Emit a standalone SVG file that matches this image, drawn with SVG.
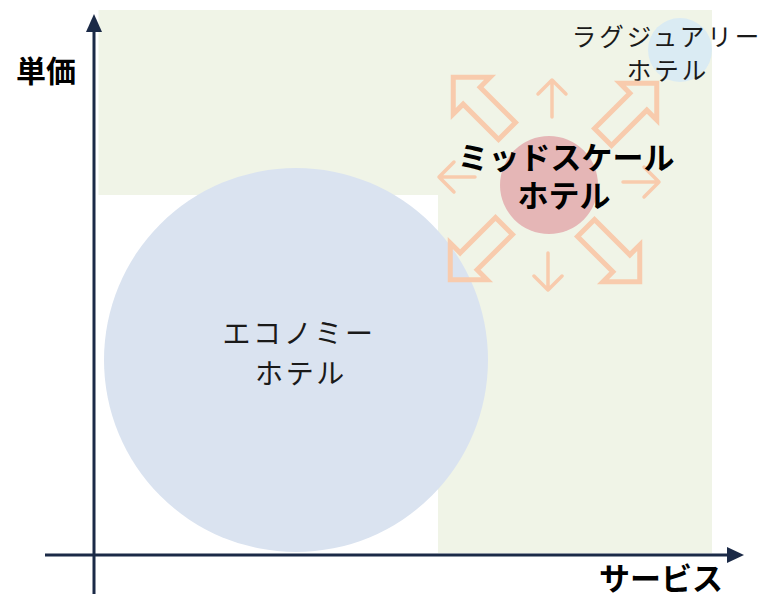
<svg xmlns="http://www.w3.org/2000/svg" width="762" height="595" viewBox="0 0 762 595">
<defs>
<style>
.bg{fill:#F0F4E7}
.ax{stroke:#1B2A47;stroke-width:3;fill:none}
.axh{fill:#1B2A47}
.blk{fill:none;stroke:#F8CBAD;stroke-width:5;stroke-linejoin:miter}
.thin{fill:none;stroke:#F8CBAD;stroke-width:3.5;stroke-linecap:round;stroke-linejoin:round}
.t{font-family:"Noto Sans CJK JP","Noto Sans",sans-serif;fill:#1a1a1a;text-anchor:middle}
.b{font-weight:bold;fill:#000}
</style>
<path id="blockArrow" d="M0,-12 L50,-12 L50,-26 L76,0 L50,26 L50,12 L0,12 Z"/>
</defs>
<rect width="762" height="595" fill="#fff"/>
<path class="bg" d="M98.5,10 H712 V553 H438 V195 H98.5 Z"/>

<g id="economy">
<circle cx="296" cy="360" r="192" fill="#DAE3F0"/>
<text class="t" font-size="28" letter-spacing="2.6"><tspan x="299" y="344">エコノミー</tspan><tspan x="301" y="384">ホテル</tspan></text>
</g>

<g id="luxury">
<circle cx="680" cy="50" r="32" fill="#DAEBF3"/>
<text class="t" font-size="24.5" letter-spacing="3"><tspan x="667" y="46">ラグジュアリー</tspan><tspan x="668" y="80">ホテル</tspan></text>
</g>

<g id="arrows">
<use href="#blockArrow" class="blk" transform="translate(507,131) rotate(-135)"/>
<use href="#blockArrow" class="blk" transform="translate(603,137) rotate(-45)"/>
<use href="#blockArrow" class="blk" transform="translate(504,226) rotate(135)"/>
<use href="#blockArrow" class="blk" transform="translate(586,228) rotate(45)"/>
<path class="thin" d="M552,117 V80 M538,94 L552,80 L566,94"/>
<path class="thin" d="M548,253 V290 M534,276 L548,290 L562,276"/>
<path class="thin" d="M475,177 H439 M454,162 L439,177 L454,192"/>
<path class="thin" d="M623,182 H659 M644,167 L659,182 L644,197"/>
</g>

<g id="midscale">
<circle cx="549" cy="185" r="49" fill="#E5B6B6"/>
<text class="t b" font-size="31"><tspan x="566" y="169">ミッドスケール</tspan><tspan x="564" y="207">ホテル</tspan></text>
</g>

<g id="axes">
<line class="ax" x1="94" y1="594" x2="94" y2="28"/>
<polygon class="axh" points="94,14 86,32 102,32"/>
<line class="ax" x1="45" y1="555" x2="730" y2="555"/>
<polygon class="axh" points="744,555 727,547 727,563"/>
</g>

<g id="labels">
<text class="t b" font-size="30" x="46" y="82">単価</text>
<text class="t b" font-size="31" x="661" y="590">サービス</text>
</g>
</svg>
